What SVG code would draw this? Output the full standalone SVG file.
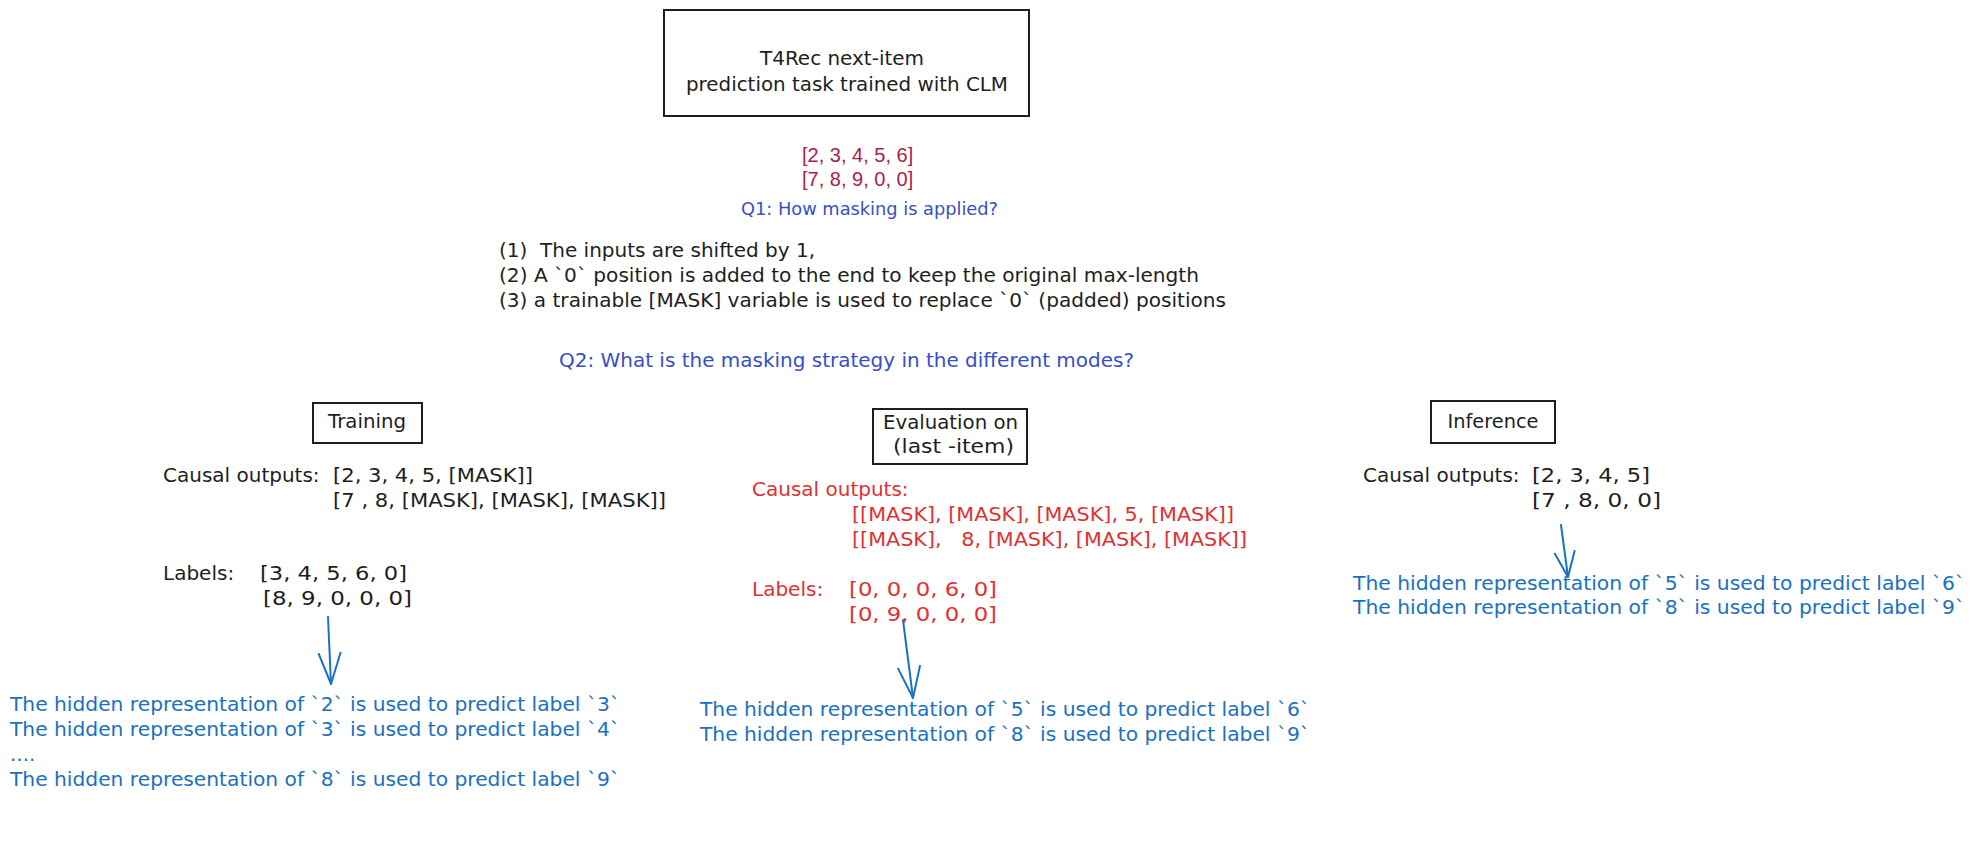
<svg xmlns="http://www.w3.org/2000/svg" width="1976" height="854" viewBox="0 0 1976 854">
<style>
text{font-family:"DejaVu Sans","Noto Sans",sans-serif;font-size:20px;fill:#1e1e1e}
.red{fill:#e03131}
.blue{fill:#1971c2}
.q{fill:#364fc7}
.num{font-family:"Liberation Sans",Arial,sans-serif;fill:#a61e4d}
.box{fill:none;stroke:#1e1e1e;stroke-width:2}
.arrow{fill:none;stroke:#1971c2;stroke-width:2;stroke-linecap:round}
</style>
<defs>
<marker id="head" markerUnits="userSpaceOnUse" markerWidth="34" markerHeight="26" refX="32" refY="13" orient="auto">
<path d="M1,2 L32,13 L1,24" fill="none" stroke="#1971c2" stroke-width="2" stroke-linecap="round" stroke-linejoin="round"/>
</marker>
<marker id="headS" markerUnits="userSpaceOnUse" markerWidth="28" markerHeight="24" refX="26" refY="12" orient="auto">
<path d="M1,2 L26,12 L1,22" fill="none" stroke="#1971c2" stroke-width="2" stroke-linecap="round" stroke-linejoin="round"/>
</marker>
</defs>
<rect width="1976" height="854" fill="#ffffff"/>

<g id="title">
<rect class="box" x="664" y="10" width="365" height="106"/>
<text x="760" y="65" textLength="164" lengthAdjust="spacingAndGlyphs">T4Rec next-item</text>
<text x="686" y="91" textLength="322" lengthAdjust="spacingAndGlyphs">prediction task trained with CLM</text>
</g>

<g id="inputs">
<text class="num" x="802" y="162">[2, 3, 4, 5, 6]</text>
<text class="num" x="802" y="186">[7, 8, 9, 0, 0]</text>
</g>

<g id="q1">
<text class="q" x="741" y="215" style="font-size:18px" textLength="257" lengthAdjust="spacingAndGlyphs">Q1: How masking is applied?</text>
</g>

<g id="steps">
<text x="499" y="257" xml:space="preserve" textLength="316" lengthAdjust="spacingAndGlyphs">(1)  The inputs are shifted by 1,</text>
<text x="499" y="282" textLength="700" lengthAdjust="spacingAndGlyphs">(2) A `0` position is added to the end to keep the original max-length</text>
<text x="499" y="307" textLength="727" lengthAdjust="spacingAndGlyphs">(3) a trainable [MASK] variable is used to replace `0` (padded) positions</text>
</g>

<g id="q2">
<text class="q" x="559" y="367" textLength="575" lengthAdjust="spacingAndGlyphs">Q2: What is the masking strategy in the different modes?</text>
</g>

<g id="training">
<rect class="box" x="313" y="403" width="109" height="40"/>
<text x="367" y="428" text-anchor="middle" textLength="78" lengthAdjust="spacingAndGlyphs">Training</text>
</g>

<g id="training-outputs">
<text y="482"><tspan x="163">Causal outputs:</tspan><tspan x="333" textLength="200" lengthAdjust="spacingAndGlyphs">[2, 3, 4, 5, [MASK]]</tspan></text>
<text x="333" y="507" textLength="333" lengthAdjust="spacingAndGlyphs">[7 , 8, [MASK], [MASK], [MASK]]</text>
<text y="580"><tspan x="163">Labels:</tspan><tspan x="260" textLength="147" lengthAdjust="spacingAndGlyphs">[3, 4, 5, 6, 0]</tspan></text>
<text x="263" y="605" textLength="149" lengthAdjust="spacingAndGlyphs">[8, 9, 0, 0, 0]</text>
</g>

<g id="training-result">
<text class="blue" x="10" y="711" textLength="610" lengthAdjust="spacingAndGlyphs">The hidden representation of `2` is used to predict label `3`</text>
<text class="blue" x="10" y="736" textLength="610" lengthAdjust="spacingAndGlyphs">The hidden representation of `3` is used to predict label `4`</text>
<text class="blue" x="10" y="761">....</text>
<text class="blue" x="10" y="786" textLength="610" lengthAdjust="spacingAndGlyphs">The hidden representation of `8` is used to predict label `9`</text>
</g>

<g id="evaluation">
<rect class="box" x="873" y="409" width="154" height="55"/>
<text x="883" y="429" textLength="135" lengthAdjust="spacingAndGlyphs">Evaluation on</text>
<text x="893" y="453" textLength="121" lengthAdjust="spacingAndGlyphs">(last -item)</text>
</g>

<g id="evaluation-outputs">
<text class="red" x="752" y="496">Causal outputs:</text>
<text class="red" x="852" y="521" textLength="382" lengthAdjust="spacingAndGlyphs">[[MASK], [MASK], [MASK], 5, [MASK]]</text>
<text class="red" x="852" y="546" xml:space="preserve" textLength="395" lengthAdjust="spacingAndGlyphs">[[MASK],   8, [MASK], [MASK], [MASK]]</text>
<text class="red" y="596"><tspan x="752">Labels:</tspan><tspan x="849" textLength="148" lengthAdjust="spacingAndGlyphs">[0, 0, 0, 6, 0]</tspan></text>
<text class="red" x="849" y="621" textLength="148" lengthAdjust="spacingAndGlyphs">[0, 9, 0, 0, 0]</text>
</g>

<g id="evaluation-result">
<text class="blue" x="700" y="716" textLength="610" lengthAdjust="spacingAndGlyphs">The hidden representation of `5` is used to predict label `6`</text>
<text class="blue" x="700" y="741" textLength="610" lengthAdjust="spacingAndGlyphs">The hidden representation of `8` is used to predict label `9`</text>
</g>

<g id="inference">
<rect class="box" x="1431" y="401" width="124" height="42"/>
<text x="1493" y="428" text-anchor="middle" textLength="91" lengthAdjust="spacingAndGlyphs">Inference</text>
</g>

<g id="inference-outputs">
<text y="482"><tspan x="1363">Causal outputs:</tspan><tspan x="1532" textLength="118" lengthAdjust="spacingAndGlyphs">[2, 3, 4, 5]</tspan></text>
<text x="1532" y="507" textLength="129" lengthAdjust="spacingAndGlyphs">[7 , 8, 0, 0]</text>
</g>

<g id="inference-result">
<text class="blue" x="1353" y="590" textLength="612" lengthAdjust="spacingAndGlyphs">The hidden representation of `5` is used to predict label `6`</text>
<text class="blue" x="1353" y="614" textLength="612" lengthAdjust="spacingAndGlyphs">The hidden representation of `8` is used to predict label `9`</text>
</g>

<g id="connectors">
<path class="arrow" d="M328,617 L331,684" marker-end="url(#head)"/>
<path class="arrow" d="M903,620 L913,698" marker-end="url(#head)"/>
<path class="arrow" d="M1561,525 L1568,577" marker-end="url(#headS)"/>
</g>
</svg>
